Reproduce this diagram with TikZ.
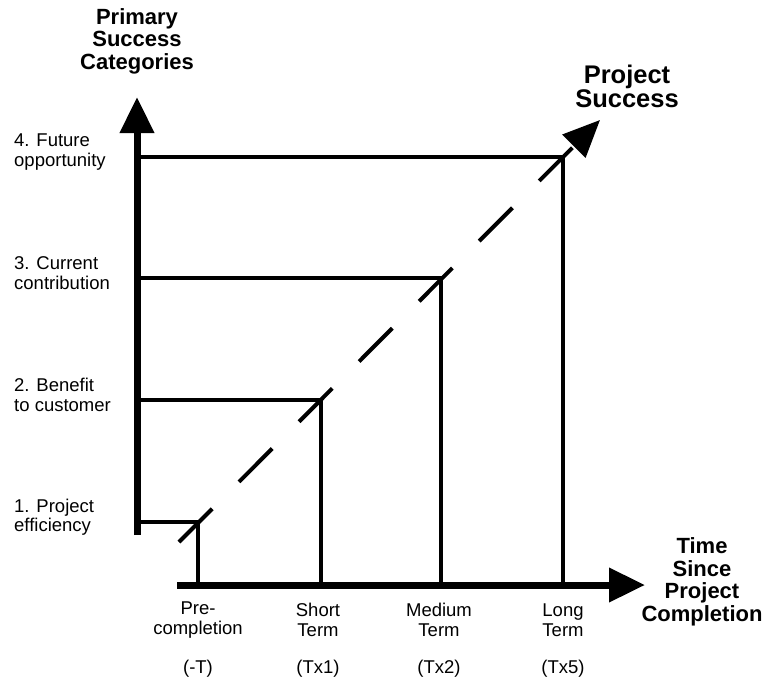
\documentclass[tikz,border=0pt]{standalone}
\usepackage{fontspec}
\setmainfont{Liberation Sans}
\usetikzlibrary{arrows.meta}
\tikzset{
  axisline/.style={line width=7pt,-{Triangle[length=36pt,width=33pt]}},
  levelline/.style={line width=3.5pt},
  smalltext/.style={inner sep=0pt,font=\fontsize{18.5}{19.5}\selectfont},
  headtext/.style={inner sep=0pt,align=center,font=\fontsize{22}{22.5}\selectfont\bfseries}
}
\begin{document}
\begin{tikzpicture}[x=1pt,y=-1pt]
  \useasboundingbox (0,0) rectangle (765,683);
  % 坐标轴
  \coordinate (ybot) at (137,535);
  \coordinate (ytop) at (137,97);
  \coordinate (xleft) at (177,585);
  \coordinate (xright) at (645,585);
  \draw[axisline] (ybot) -- (ytop);
  \draw[axisline] (xleft) -- (xright);
  % 四个层级：水平线与竖线
  \foreach \name/\xx/\yy in {one/198/522, two/321/400, three/441/278, four/563/157} {
    \coordinate (\name) at (\xx,\yy);
    \coordinate (\name-y) at (137,\yy);
    \coordinate (\name-x) at (\xx,585);
    \draw[levelline] (\name-y) -- (\name) -- (\name-x);
  }
  % 虚线对角线 → Project Success
  \coordinate (dstart) at (179,542);
  \coordinate (dend) at (600,120);
  \draw[line width=4pt,dash pattern=on 47pt off 38pt,
        -{Triangle[length=37pt,width=32pt]}] (dstart) -- (dend);
  % 纵轴标签
  \node[smalltext,anchor=west,align=left] (lab1) at (14,517) {1. Project\\efficiency};
  \node[smalltext,anchor=west,align=left] (lab2) at (14,395) {2. Benefit\\to customer};
  \node[smalltext,anchor=west,align=left] (lab3) at (14,273) {3. Current\\contribution};
  \node[smalltext,anchor=west,align=left] (lab4) at (14,152) {4. Future\\opportunity};
  % 横轴标签
  \node[smalltext,align=center] (pre) at (198,620) {Pre-\\completion};
  \node[smalltext,align=center] (short) at (318,620) {Short\\Term};
  \node[smalltext,align=center] (medium) at (439,620) {Medium\\Term};
  \node[smalltext,align=center] (long) at (563,620) {Long\\Term};
  \node[smalltext] (preT) at (198,669) {(-T)};
  \node[smalltext] (shortT) at (318,669) {(Tx1)};
  \node[smalltext] (mediumT) at (439,669) {(Tx2)};
  \node[smalltext] (longT) at (563,669) {(Tx5)};
  % 标题
  \node[headtext] (ytitle) at (137,41) {Primary\\Success\\Categories};
  \node[headtext,font=\fontsize{25.5}{24}\selectfont\bfseries] (dtitle) at (627,86) {Project\\Success};
  \node[headtext] (xtitle) at (702,582) {Time\\Since\\Project\\Completion};
\end{tikzpicture}
\end{document}
